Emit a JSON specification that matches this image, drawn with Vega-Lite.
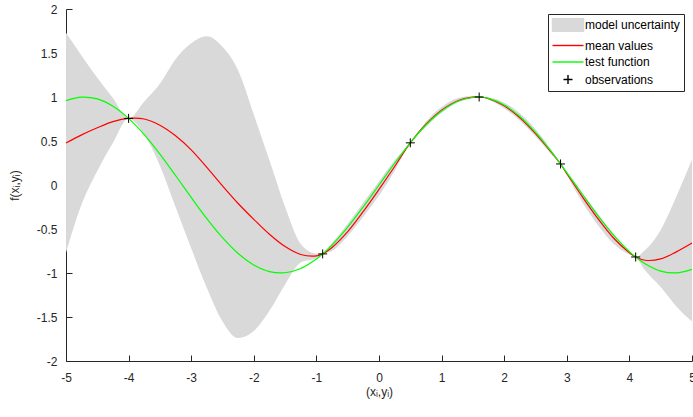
{
  "$schema": "https://vega.github.io/schema/vega-lite/v6.json",
  "width": 626,
  "height": 352,
  "autosize": {"type": "none"},
  "padding": {"left": 66, "top": 9, "right": 1, "bottom": 56},
  "background": "white",
  "config": {
    "view": {"stroke": null},
    "font": "Liberation Sans",
    "axis": {
      "domainColor": "#262626", "tickColor": "#262626", "labelColor": "#262626", "titleColor": "#262626",
      "labelFont": "Liberation Sans", "titleFont": "Liberation Sans",
      "labelFontSize": 12, "titleFontSize": 12, "titleFontWeight": "normal",
      "grid": false, "tickSize": -6, "domainWidth": 1, "tickWidth": 1,
      "labelFlush": false, "labelOverlap": false
    },
    "legend": {
      "orient": "none", "legendX": 482, "legendY": 5, "title": null,
      "padding": 4, "strokeColor": "#262626", "fillColor": "white",
      "symbolSize": 144, "symbolStrokeWidth": 1.4, "symbolOffset": 9, "labelOffset": 10,
      "rowPadding": 3.5, "labelFontSize": 12, "labelFont": "Liberation Sans", "labelColor": "#000000", "labelLimit": 300
    }
  },
  "datasets": {
    "band": [
      {"x": -5, "lo": -0.77, "hi": 1.73, "series": "model uncertainty"},
      {"x": -4.75, "lo": -0.22, "hi": 1.47, "series": "model uncertainty"},
      {"x": -4.5, "lo": 0.16, "hi": 1.22, "series": "model uncertainty"},
      {"x": -4.25, "lo": 0.48, "hi": 0.99, "series": "model uncertainty"},
      {"x": -4, "lo": 0.757, "hi": 0.757, "series": "model uncertainty"},
      {"x": -3.75, "lo": 0.57, "hi": 0.95, "series": "model uncertainty"},
      {"x": -3.5, "lo": 0.22, "hi": 1.15, "series": "model uncertainty"},
      {"x": -3.25, "lo": -0.25, "hi": 1.43, "series": "model uncertainty"},
      {"x": -3, "lo": -0.72, "hi": 1.61, "series": "model uncertainty"},
      {"x": -2.75, "lo": -1.17, "hi": 1.69, "series": "model uncertainty"},
      {"x": -2.5, "lo": -1.55, "hi": 1.57, "series": "model uncertainty"},
      {"x": -2.25, "lo": -1.74, "hi": 1.3, "series": "model uncertainty"},
      {"x": -2, "lo": -1.66, "hi": 0.8, "series": "model uncertainty"},
      {"x": -1.75, "lo": -1.43, "hi": 0.28, "series": "model uncertainty"},
      {"x": -1.5, "lo": -1.13, "hi": -0.25, "series": "model uncertainty"},
      {"x": -1.25, "lo": -0.88, "hi": -0.67, "series": "model uncertainty"},
      {"x": -1, "lo": -0.83, "hi": -0.78, "series": "model uncertainty"},
      {"x": -0.9, "lo": -0.783, "hi": -0.783, "series": "model uncertainty"},
      {"x": -0.75, "lo": -0.75, "hi": -0.66, "series": "model uncertainty"},
      {"x": -0.5, "lo": -0.58, "hi": -0.44, "series": "model uncertainty"},
      {"x": -0.25, "lo": -0.36, "hi": -0.2, "series": "model uncertainty"},
      {"x": 0, "lo": -0.12, "hi": 0.04, "series": "model uncertainty"},
      {"x": 0.25, "lo": 0.16, "hi": 0.28, "series": "model uncertainty"},
      {"x": 0.5, "lo": 0.479, "hi": 0.479, "series": "model uncertainty"},
      {"x": 0.75, "lo": 0.66, "hi": 0.72, "series": "model uncertainty"},
      {"x": 1, "lo": 0.82, "hi": 0.885, "series": "model uncertainty"},
      {"x": 1.25, "lo": 0.935, "hi": 0.985, "series": "model uncertainty"},
      {"x": 1.5, "lo": 0.985, "hi": 1.01, "series": "model uncertainty"},
      {"x": 1.6, "lo": 1.0, "hi": 1.0, "series": "model uncertainty"},
      {"x": 1.75, "lo": 0.97, "hi": 0.995, "series": "model uncertainty"},
      {"x": 2, "lo": 0.87, "hi": 0.935, "series": "model uncertainty"},
      {"x": 2.25, "lo": 0.73, "hi": 0.815, "series": "model uncertainty"},
      {"x": 2.5, "lo": 0.55, "hi": 0.635, "series": "model uncertainty"},
      {"x": 2.75, "lo": 0.35, "hi": 0.4, "series": "model uncertainty"},
      {"x": 2.9, "lo": 0.239, "hi": 0.239, "series": "model uncertainty"},
      {"x": 3, "lo": 0.11, "hi": 0.15, "series": "model uncertainty"},
      {"x": 3.25, "lo": -0.2, "hi": -0.09, "series": "model uncertainty"},
      {"x": 3.5, "lo": -0.46, "hi": -0.33, "series": "model uncertainty"},
      {"x": 3.75, "lo": -0.67, "hi": -0.56, "series": "model uncertainty"},
      {"x": 4, "lo": -0.79, "hi": -0.75, "series": "model uncertainty"},
      {"x": 4.1, "lo": -0.818, "hi": -0.818, "series": "model uncertainty"},
      {"x": 4.25, "lo": -0.97, "hi": -0.74, "series": "model uncertainty"},
      {"x": 4.5, "lo": -1.16, "hi": -0.51, "series": "model uncertainty"},
      {"x": 4.75, "lo": -1.38, "hi": -0.13, "series": "model uncertainty"},
      {"x": 5, "lo": -1.55, "hi": 0.29, "series": "model uncertainty"}
    ],
    "curves": [
      {"x": -5, "y": 0.477, "series": "mean values"},
      {"x": -4.75, "y": 0.57, "series": "mean values"},
      {"x": -4.5, "y": 0.65, "series": "mean values"},
      {"x": -4.25, "y": 0.72, "series": "mean values"},
      {"x": -4, "y": 0.757, "series": "mean values"},
      {"x": -3.75, "y": 0.75, "series": "mean values"},
      {"x": -3.5, "y": 0.68, "series": "mean values"},
      {"x": -3.25, "y": 0.56, "series": "mean values"},
      {"x": -3, "y": 0.4, "series": "mean values"},
      {"x": -2.75, "y": 0.2, "series": "mean values"},
      {"x": -2.5, "y": -0.01, "series": "mean values"},
      {"x": -2.25, "y": -0.21, "series": "mean values"},
      {"x": -2, "y": -0.39, "series": "mean values"},
      {"x": -1.75, "y": -0.56, "series": "mean values"},
      {"x": -1.5, "y": -0.7, "series": "mean values"},
      {"x": -1.25, "y": -0.79, "series": "mean values"},
      {"x": -1, "y": -0.806, "series": "mean values"},
      {"x": -0.9, "y": -0.783, "series": "mean values"},
      {"x": -0.75, "y": -0.71, "series": "mean values"},
      {"x": -0.5, "y": -0.53, "series": "mean values"},
      {"x": -0.25, "y": -0.3, "series": "mean values"},
      {"x": 0, "y": -0.05, "series": "mean values"},
      {"x": 0.25, "y": 0.21, "series": "mean values"},
      {"x": 0.5, "y": 0.479, "series": "mean values"},
      {"x": 0.75, "y": 0.69, "series": "mean values"},
      {"x": 1, "y": 0.85, "series": "mean values"},
      {"x": 1.25, "y": 0.955, "series": "mean values"},
      {"x": 1.5, "y": 0.998, "series": "mean values"},
      {"x": 1.6, "y": 1.0, "series": "mean values"},
      {"x": 1.75, "y": 0.982, "series": "mean values"},
      {"x": 2, "y": 0.9, "series": "mean values"},
      {"x": 2.25, "y": 0.765, "series": "mean values"},
      {"x": 2.5, "y": 0.585, "series": "mean values"},
      {"x": 2.75, "y": 0.375, "series": "mean values"},
      {"x": 2.9, "y": 0.239, "series": "mean values"},
      {"x": 3, "y": 0.13, "series": "mean values"},
      {"x": 3.25, "y": -0.135, "series": "mean values"},
      {"x": 3.5, "y": -0.385, "series": "mean values"},
      {"x": 3.75, "y": -0.605, "series": "mean values"},
      {"x": 4, "y": -0.77, "series": "mean values"},
      {"x": 4.1, "y": -0.818, "series": "mean values"},
      {"x": 4.25, "y": -0.855, "series": "mean values"},
      {"x": 4.5, "y": -0.84, "series": "mean values"},
      {"x": 4.75, "y": -0.76, "series": "mean values"},
      {"x": 5, "y": -0.66, "series": "mean values"},
      {"x": -5, "y": 0.959, "series": "test function"},
      {"x": -4.75, "y": 0.999, "series": "test function"},
      {"x": -4.5, "y": 0.978, "series": "test function"},
      {"x": -4.25, "y": 0.895, "series": "test function"},
      {"x": -4, "y": 0.757, "series": "test function"},
      {"x": -3.75, "y": 0.572, "series": "test function"},
      {"x": -3.5, "y": 0.351, "series": "test function"},
      {"x": -3.25, "y": 0.108, "series": "test function"},
      {"x": -3, "y": -0.141, "series": "test function"},
      {"x": -2.75, "y": -0.382, "series": "test function"},
      {"x": -2.5, "y": -0.598, "series": "test function"},
      {"x": -2.25, "y": -0.778, "series": "test function"},
      {"x": -2, "y": -0.909, "series": "test function"},
      {"x": -1.75, "y": -0.984, "series": "test function"},
      {"x": -1.5, "y": -0.997, "series": "test function"},
      {"x": -1.25, "y": -0.949, "series": "test function"},
      {"x": -1, "y": -0.841, "series": "test function"},
      {"x": -0.9, "y": -0.783, "series": "test function"},
      {"x": -0.75, "y": -0.682, "series": "test function"},
      {"x": -0.5, "y": -0.479, "series": "test function"},
      {"x": -0.25, "y": -0.247, "series": "test function"},
      {"x": 0, "y": 0.0, "series": "test function"},
      {"x": 0.25, "y": 0.247, "series": "test function"},
      {"x": 0.5, "y": 0.479, "series": "test function"},
      {"x": 0.75, "y": 0.682, "series": "test function"},
      {"x": 1, "y": 0.841, "series": "test function"},
      {"x": 1.25, "y": 0.949, "series": "test function"},
      {"x": 1.5, "y": 0.997, "series": "test function"},
      {"x": 1.6, "y": 1.0, "series": "test function"},
      {"x": 1.75, "y": 0.984, "series": "test function"},
      {"x": 2, "y": 0.909, "series": "test function"},
      {"x": 2.25, "y": 0.778, "series": "test function"},
      {"x": 2.5, "y": 0.598, "series": "test function"},
      {"x": 2.75, "y": 0.382, "series": "test function"},
      {"x": 2.9, "y": 0.239, "series": "test function"},
      {"x": 3, "y": 0.141, "series": "test function"},
      {"x": 3.25, "y": -0.108, "series": "test function"},
      {"x": 3.5, "y": -0.351, "series": "test function"},
      {"x": 3.75, "y": -0.572, "series": "test function"},
      {"x": 4, "y": -0.757, "series": "test function"},
      {"x": 4.1, "y": -0.818, "series": "test function"},
      {"x": 4.25, "y": -0.895, "series": "test function"},
      {"x": 4.5, "y": -0.978, "series": "test function"},
      {"x": 4.75, "y": -0.999, "series": "test function"},
      {"x": 5, "y": -0.959, "series": "test function"}
    ],
    "obs": [
      {"x": -4, "y": 0.757, "series": "observations"},
      {"x": -0.9, "y": -0.783, "series": "observations"},
      {"x": 0.5, "y": 0.479, "series": "observations"},
      {"x": 1.6, "y": 1.0, "series": "observations"},
      {"x": 2.9, "y": 0.239, "series": "observations"},
      {"x": 4.1, "y": -0.818, "series": "observations"}
    ]
  },
  "layer": [
    {
      "data": {"name": "band"},
      "mark": {"type": "area", "interpolate": "monotone", "opacity": 1},
      "encoding": {
        "x": {"field": "x", "type": "quantitative",
          "scale": {"domain": [-5, 5], "nice": false, "zero": false},
          "axis": {"values": [-5, -4, -3, -2, -1, 0, 1, 2, 3, 4, 5], "labelExpr": "'' + datum.value", "labelPadding": 17, "title": "(xᵢ,yᵢ)", "titlePadding": 3}},
        "y": {"field": "hi", "type": "quantitative",
          "scale": {"domain": [-2, 2], "nice": false, "zero": false},
          "axis": {"values": [-2, -1.5, -1, -0.5, 0, 0.5, 1, 1.5, 2], "labelExpr": "'' + datum.value", "labelPadding": 15, "title": "f(xᵢ,yᵢ)", "titlePadding": 15}},
        "y2": {"field": "lo"},
        "color": {"field": "series", "type": "nominal",
          "scale": {"domain": ["model uncertainty", "mean values", "test function", "observations"], "range": ["#d9d9d9", "#ff0000", "#00ff00", "#000000"]}}
      }
    },
    {
      "data": {"name": "curves"},
      "mark": {"type": "line", "interpolate": "catmull-rom", "strokeWidth": 1.2},
      "encoding": {
        "x": {"field": "x", "type": "quantitative"},
        "y": {"field": "y", "type": "quantitative"},
        "color": {"field": "series", "type": "nominal"}
      }
    },
    {
      "data": {"name": "obs"},
      "mark": {"type": "point", "size": 144, "filled": false, "strokeWidth": 1, "opacity": 1},
      "encoding": {
        "x": {"field": "x", "type": "quantitative"},
        "y": {"field": "y", "type": "quantitative"},
        "color": {"field": "series", "type": "nominal"},
        "shape": {"field": "series", "type": "nominal",
          "scale": {"domain": ["model uncertainty", "mean values", "test function", "observations"], "range": ["M-2.583,-1.06H2.583V1.06H-2.583Z", "M-2.583,0H2.583", "M-2.583,0H2.583", "M-0.75,0H0.75M0,-0.75V0.75"]}}
      }
    }
  ]
}
